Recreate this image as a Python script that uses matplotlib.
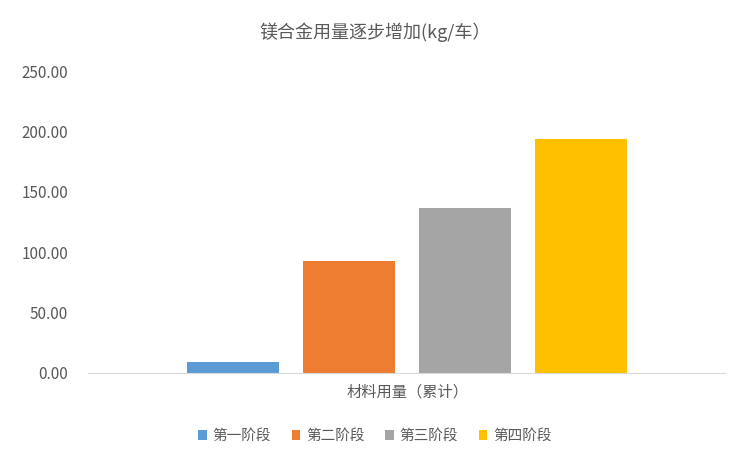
import matplotlib.pyplot as plt
from matplotlib.ticker import FormatStrFormatter

plt.rcParams['font.family'] = ['Noto Sans CJK SC', 'DejaVu Sans']

stages = ['第一阶段', '第二阶段', '第三阶段', '第四阶段']
values = [9.0, 92.5, 136.5, 194.0]
colors = ['#5B9BD5', '#ED7D31', '#A5A5A5', '#FFC000']
category = '材料用量（累计）'
title = '镁合金用量逐步增加(kg/车）'

text_color = '#595959'

fig = plt.figure(figsize=(7.5, 4.62), dpi=100)
ax = fig.add_axes([0.117, 0.193, 0.85, 0.653])

for i, (s, v, c) in enumerate(zip(stages, values, colors)):
    ax.bar(i, v, width=0.79, color=c, label=s)

ax.set_xlim(-1.25, 4.24)
ax.set_ylim(0, 250)
ax.set_yticks([0, 50, 100, 150, 200, 250])
ax.yaxis.set_major_formatter(FormatStrFormatter('%.2f'))
ax.set_xticks([1.5])
ax.set_xticklabels([category])
ax.tick_params(axis='both', length=0, colors=text_color, labelsize=11)
ax.tick_params(axis='x', pad=8)
ax.tick_params(axis='y', pad=14)

for side in ['top', 'right', 'left']:
    ax.spines[side].set_visible(False)
ax.spines['bottom'].set_color('#D9D9D9')

fig.text(0.5, 0.93, title, ha='center', va='center', fontsize=13, color=text_color)

fig.legend(loc='center', bbox_to_anchor=(0.5, 0.056), ncol=4, frameon=False,
           fontsize=10.5, handlelength=0.6, handleheight=0.6, handletextpad=0.4,
           columnspacing=1.4, labelcolor=text_color)

fig.savefig('out.png', dpi=100)
